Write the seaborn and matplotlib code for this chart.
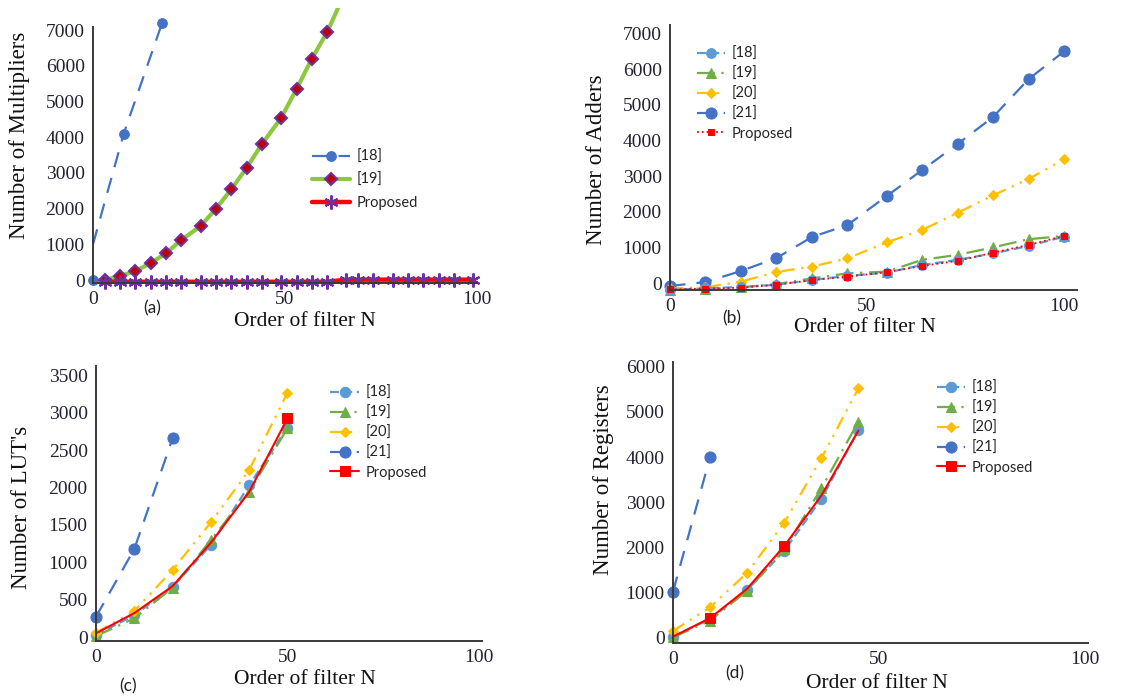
import matplotlib
matplotlib.use("Agg")
import matplotlib.pyplot as plt
import seaborn as sns

# ---- (a) multipliers ----
mult_x18 = [0, 8, 18]
mult_y18 = [1000, 4100, 7200]
mult_x18_dot = [0]
mult_y18_dot = [0]
mult_x19 = [3, 7, 11, 15, 19, 23, 28, 32, 36, 40, 44, 49, 53, 57, 61, 65]
mult_y19 = [0, 110, 250, 470, 750, 1120, 1510, 1990, 2540, 3140, 3810, 4540, 5350, 6200, 6950, 7900]
mult_xp = [3, 7, 11, 15, 19, 23, 28, 32, 36, 40, 44, 49, 53, 57, 61, 66, 69, 73, 78, 82, 86, 90, 94, 99]
mult_yp = [-50] * 15 + [10] * 9

# ---- (b) adders ----
add_x = [0, 9, 18, 27, 36, 45, 55, 64, 73, 82, 91, 100]
add_18 = [-190, -150, -110, -50, 85, 200, 290, 505, 650, 830, 1040, 1300]
add_19 = [-200, -180, -120, -30, 130, 270, 320, 650, 790, 1000, 1230, 1320]
add_20 = [-150, -120, 40, 310, 460, 690, 1140, 1490, 1970, 2460, 2920, 3470]
add_21 = [-84, 28, 336, 700, 1290, 1625, 2440, 3170, 3900, 4660, 5720, 6500]
add_prop = [-180, -160, -130, -50, 80, 180, 300, 480, 620, 850, 1070, 1320]

# ---- (c) LUTs ----
lut_x = [0, 10, 20, 30, 40, 50]
lut_x21 = [0, 10, 20]
lut_18 = [30, 290, 670, 1230, 2030, 2800]
lut_19 = [13, 250, 659, 1297, 1943, 2790]
lut_20 = [58, 348, 896, 1533, 2233, 3266]
lut_21 = [272, 1176, 2656]
lut_prop = [50, 320, 680, 1260, 1940, 2923]

# ---- (d) registers ----
reg_x = [0, 9, 18, 27, 36, 45]
reg_x21 = [0, 9]
reg_18 = [30, 420, 1060, 1930, 3075, 4600]
reg_19 = [15, 383, 1046, 1962, 3312, 4786]
reg_20 = [155, 680, 1445, 2550, 3975, 5525]
reg_21 = [1025, 4000]
reg_prop = [30, 440, 1090, 2035, 3150, 4590]

x_ticks = [0, 50, 100]

C18 = "#5B9BD5"
C19 = "#70AD47"
C20 = "#FFC000"
C21 = "#4472C4"
CP = "#FF0000"
SERIF = ["Liberation Serif", "DejaVu Serif"]
SANS = ["Lato", "DejaVu Sans"]

sns.set_theme(style="white")
plt.rcParams["font.family"] = SERIF
plt.rcParams["axes.formatter.use_mathtext"] = False

W, H = 1123, 697
fig = plt.figure(figsize=(W / 100, H / 100), dpi=100)


def box(l, t, r, b):
    return [l / W, 1 - b / H, (r - l) / W, (b - t) / H]


def style(ax, l, t, r, b, xlim, ylim, yticks, ylabel, ylab_px, xlab_px, letter, letter_px):
    ax.set_xlim(*xlim)
    ax.set_ylim(*ylim)
    tick_font = dict(fontfamily="Liberation Serif", fontsize=14, color="#222233")
    ax.set_xticks(x_ticks, [str(v) for v in x_ticks], **tick_font)
    ax.set_yticks(list(yticks), [str(v) for v in yticks], **tick_font)
    ax.tick_params(length=0, pad=6)
    for s in ["top", "right"]:
        ax.spines[s].set_visible(False)
    for s in ["left", "bottom"]:
        ax.spines[s].set_color("#3a3a3a")
        ax.spines[s].set_linewidth(1.4)
    ax.set_xlabel("Order of filter N", fontsize=15.5, color="#111111", family=SERIF)
    ax.xaxis.label.set_va("center")
    ax.xaxis.set_label_coords((xlab_px[0] - l) / (r - l), (b - xlab_px[1]) / (b - t))
    ax.set_ylabel(ylabel, fontsize=16.5, color="#111111", family=SERIF)
    ax.yaxis.label.set_va("center")
    ax.yaxis.set_label_coords((ylab_px[0] - l) / (r - l), (b - ylab_px[1]) / (b - t))
    fig.text(letter_px[0] / W, 1 - letter_px[1] / H, letter, fontsize=12.5,
             family=SANS, ha="center", va="center", color="#222222")


def legend(ax, x, y, spacing, hlen, order=None):
    h, lab = ax.get_legend_handles_labels()
    if order is not None:
        h = [h[i] for i in order]
        lab = [lab[i] for i in order]
    ax.legend(h, lab, loc="upper left", bbox_to_anchor=(x / W, 1 - y / H),
              bbox_transform=fig.transFigure, frameon=False, borderpad=0, borderaxespad=0,
              handlelength=hlen, handletextpad=0.45, labelspacing=spacing,
              prop={"family": SANS, "size": 10.5})


# (a)
la = (93, 8, 477, 283)
ax = fig.add_axes(box(*la))
sns.lineplot(x=mult_x18, y=mult_y18, ax=ax, color=C21, linestyle=(0, (7, 5)), lw=1.6,
             marker="o", markersize=7, mec=C21, markevery=[1, 2], label="[18]")
sns.lineplot(x=mult_x18_dot, y=mult_y18_dot, ax=ax, color=C21, marker="o", markersize=7,
             mec=C21, lw=0, clip_on=False)
sns.lineplot(x=mult_x19, y=mult_y19, ax=ax, color="#8DC63F", lw=3, marker="D", markersize=6.5,
             mfc="#C00000", mec="#7030A0", mew=1.5, label="[19]")
sns.lineplot(x=mult_xp, y=mult_yp, ax=ax, color=CP, lw=3.2, marker=(6, 2, 0), markersize=10,
             mec="#7030A0", mfc="#7030A0", mew=1.6, label="Proposed", clip_on=False)
style(ax, *la, (0, 100), (-84, 7619), range(0, 7001, 1000), "Number of Multipliers",
      (20, 135), (305, 321), "(a)", (152, 308))
ax.spines["left"].set_bounds(-84, 7100)
legend(ax, 312, 150, 0.62, 2.6)

# (b)
lb = (670, 25, 1077, 290)
ax = fig.add_axes(box(*lb))
sns.lineplot(x=add_x, y=add_21, ax=ax, color=C21, linestyle=(0, (7, 5)), lw=1.6,
             marker="o", markersize=8, mec=C21, label="[21]", clip_on=False)
sns.lineplot(x=add_x, y=add_20, ax=ax, color=C20, linestyle=(0, (6, 3, 1, 3, 1, 3)), lw=1.6,
             marker="D", markersize=5.5, mec=C20, label="[20]", clip_on=False)
sns.lineplot(x=add_x, y=add_19, ax=ax, color=C19, linestyle=(0, (8, 3, 1, 3)), lw=1.6,
             marker="^", markersize=7.5, mec=C19, label="[19]", clip_on=False)
sns.lineplot(x=add_x, y=add_18, ax=ax, color=C18, linestyle=(0, (4, 2)), lw=1.6,
             marker="o", markersize=7, mec=C18, label="[18]", clip_on=False)
sns.lineplot(x=add_x, y=add_prop, ax=ax, color=CP, linestyle=":", lw=1.3,
             marker="s", markersize=4, mec=CP, label="Proposed", clip_on=False)
style(ax, *lb, (0, 103.3), (-196, 7241), range(0, 7001, 1000), "Number of Adders",
      (597, 160), (865, 328), "(b)", (732, 318))
legend(ax, 697, 47, 0.4, 1.9, order=[3, 2, 1, 0, 4])

# (c)
lc = (96, 366, 482, 641)
ax = fig.add_axes(box(*lc))
sns.lineplot(x=lut_x, y=lut_18, ax=ax, color=C18, linestyle=(0, (4, 2)), lw=1.6,
             marker="o", markersize=7.5, mec=C18, label="[18]", clip_on=False)
sns.lineplot(x=lut_x, y=lut_19, ax=ax, color=C19, linestyle=(0, (8, 3, 1, 3)), lw=1.6,
             marker="^", markersize=7.5, mec=C19, label="[19]", clip_on=False)
sns.lineplot(x=lut_x, y=lut_20, ax=ax, color=C20, linestyle=(0, (6, 3, 1, 3, 1, 3)), lw=1.6,
             marker="D", markersize=5.5, mec=C20, label="[20]", clip_on=False)
sns.lineplot(x=lut_x21, y=lut_21, ax=ax, color=C21, linestyle=(0, (7, 5)), lw=1.6,
             marker="o", markersize=8, mec=C21, label="[21]", clip_on=False)
sns.lineplot(x=lut_x, y=lut_prop, ax=ax, color=CP, lw=1.5, marker="s", markersize=7,
             mec=CP, markevery=[5], label="Proposed", clip_on=False)
style(ax, *lc, (0, 100.8), (-53, 3623), range(0, 3501, 500), "Number of LUT's",
      (22, 507), (305, 679), "(c)", (128, 686))
legend(ax, 330, 386, 0.4, 2.0)

# (d)
ld = (673, 362, 1088, 643)
ax = fig.add_axes(box(*ld))
sns.lineplot(x=reg_x, y=reg_18, ax=ax, color=C18, linestyle=(0, (4, 2)), lw=1.6,
             marker="o", markersize=7.5, mec=C18, label="[18]", clip_on=False)
sns.lineplot(x=reg_x, y=reg_19, ax=ax, color=C19, linestyle=(0, (8, 3, 1, 3)), lw=1.6,
             marker="^", markersize=7.5, mec=C19, label="[19]", clip_on=False)
sns.lineplot(x=reg_x, y=reg_20, ax=ax, color=C20, linestyle=(0, (6, 3, 1, 3, 1, 3)), lw=1.6,
             marker="D", markersize=5.5, mec=C20, label="[20]", clip_on=False)
sns.lineplot(x=reg_x21, y=reg_21, ax=ax, color=C21, linestyle=(0, (7, 5)), lw=1.6,
             marker="o", markersize=8, mec=C21, label="[21]", clip_on=False)
sns.lineplot(x=reg_x, y=reg_prop, ax=ax, color=CP, lw=1.5, marker="s", markersize=7,
             mec=CP, markevery=[1, 3], label="Proposed", clip_on=False)
style(ax, *ld, (0, 100.7), (-111, 6106), range(0, 6001, 1000), "Number of Registers",
      (603, 480), (877, 683), "(d)", (735, 673))
legend(ax, 937, 381, 0.4, 1.9)

fig.savefig("out.png", dpi=100)
